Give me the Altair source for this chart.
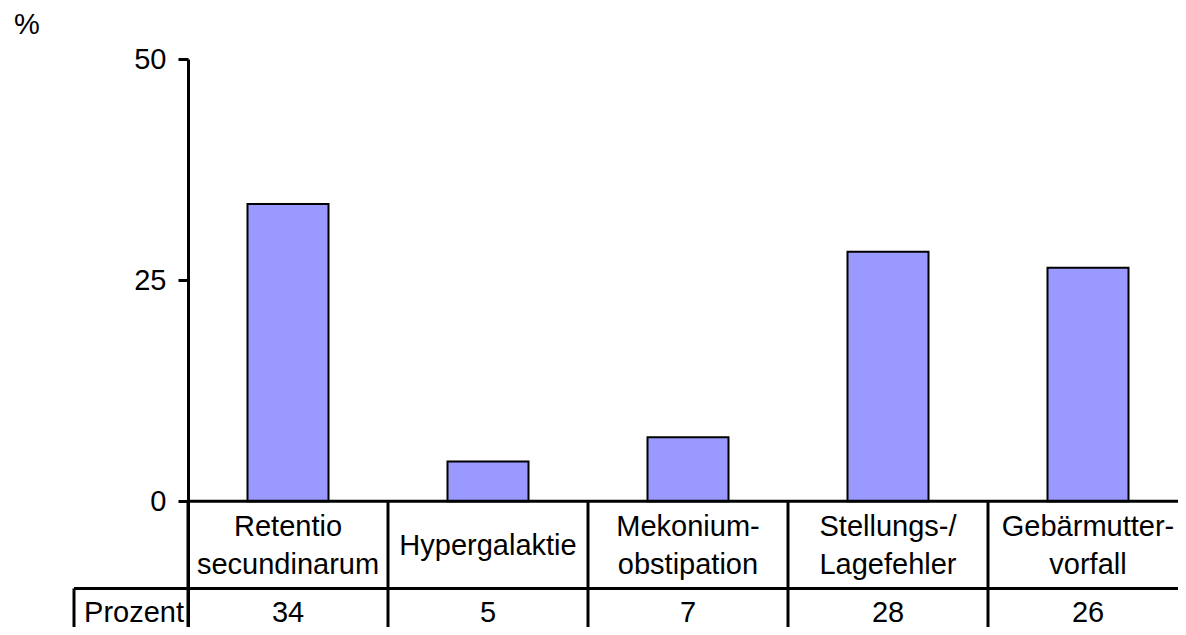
import altair as alt
import pandas as pd

# ---- data ----
categories = [
    "Retentio\nsecundinarum",
    "Hypergalaktie",
    "Mekonium-\nobstipation",
    "Stellungs-/\nLagefehler",
    "Gebärmutter-\nvorfall",
]
values = [33.6, 4.5, 7.25, 28.2, 26.4]
table_values = ["34", "5", "7", "28", "26"]
row_header = ["Prozent"]
y_ticks = [0, 25, 50]
y_title = "%"

# ---- layout constants ----
W = 1000
H = 575
Y_MIN = -15.0
Y_MAX = 50
ROW_LINE = -9.85
LABEL_Y = -5.04
PCT_Y = -12.6
HEADER_LEFT = -114
FONT = "Liberation Sans"
FS = 29
LH = 38

df = pd.DataFrame({"cat": categories, "val": values, "pct": table_values})
one = pd.DataFrame({"h": row_header})

yscale = alt.Scale(domain=[Y_MIN, Y_MAX], nice=False, zero=False)
xscale = alt.Scale(paddingInner=0, paddingOuter=0)
xenc = alt.X("cat:N", sort=categories, scale=xscale, axis=None)

base = alt.Chart(df)

bars = base.mark_bar(
    width=alt.RelativeBandSize(0.405), fill="#9999FF", stroke="black", strokeWidth=2
).encode(
    x=xenc,
    y=alt.Y(
        "val:Q",
        scale=yscale,
        axis=alt.Axis(
            values=y_ticks,
            title=y_title,
            titleAngle=0,
            titleX=-161.5,
            titleY=-34.5,
            titleAlign="center",
            titleBaseline="middle",
            titleFont=FONT,
            titleFontSize=FS,
            titleFontWeight="normal",
            titleColor="black",
            labelFont=FONT,
            labelFontSize=FS,
            labelColor="black",
            labelPadding=12,
            labelFlush=False,
            labelOverlap=False,
            tickSize=10,
            tickWidth=3,
            tickColor="black",
            domainColor="black",
            domainWidth=3,
            grid=False,
            format="d",
        ),
    ),
    y2=alt.datum(0),
)

zero_line = alt.Chart(one).mark_rule(color="black", strokeWidth=3).encode(
    y=alt.datum(0), x=alt.value(0), x2=alt.value(W)
)

row_line = alt.Chart(one).mark_rule(color="black", strokeWidth=3).encode(
    y=alt.datum(ROW_LINE), x=alt.value(HEADER_LEFT), x2=alt.value(W)
)

header_border = alt.Chart(one).mark_rule(color="black", strokeWidth=3).encode(
    x=alt.value(HEADER_LEFT), y=alt.datum(ROW_LINE), y2=alt.datum(Y_MIN)
)

cell_lines = base.mark_rule(color="black", strokeWidth=3).encode(
    x=alt.X("cat:N", sort=categories, scale=xscale, axis=None, bandPosition=0),
    y=alt.datum(0),
    y2=alt.datum(Y_MIN),
)

text_style = dict(font=FONT, fontSize=FS, baseline="middle", align="center", color="black")

cat_text_multi = base.transform_filter(
    "indexof(datum.cat, '\\n') >= 0"
).mark_text(lineBreak="\n", lineHeight=LH, dy=-LH / 2, **text_style).encode(
    x=xenc, y=alt.datum(LABEL_Y), text="cat:N"
)

cat_text_single = base.transform_filter(
    "indexof(datum.cat, '\\n') < 0"
).mark_text(**text_style).encode(
    x=xenc, y=alt.datum(LABEL_Y), text="cat:N"
)

pct_text = base.mark_text(**text_style).encode(
    x=xenc, y=alt.datum(PCT_Y), text="pct:N"
)

header_text = alt.Chart(one).mark_text(
    font=FONT, fontSize=FS, baseline="middle", align="right", color="black"
).encode(x=alt.value(-4), y=alt.datum(PCT_Y), text="h:N")

chart = alt.layer(
    bars, zero_line, row_line, header_border, cell_lines,
    cat_text_multi, cat_text_single, pct_text, header_text
).properties(
    width=W,
    height=H,
    autosize=alt.AutoSizeParams(type="none"),
    padding={"left": 180, "top": 51, "right": -10, "bottom": -7},
    background="white",
).configure_view(stroke=None)

chart.save("out.html", embed_options={"renderer": "svg", "actions": False})
